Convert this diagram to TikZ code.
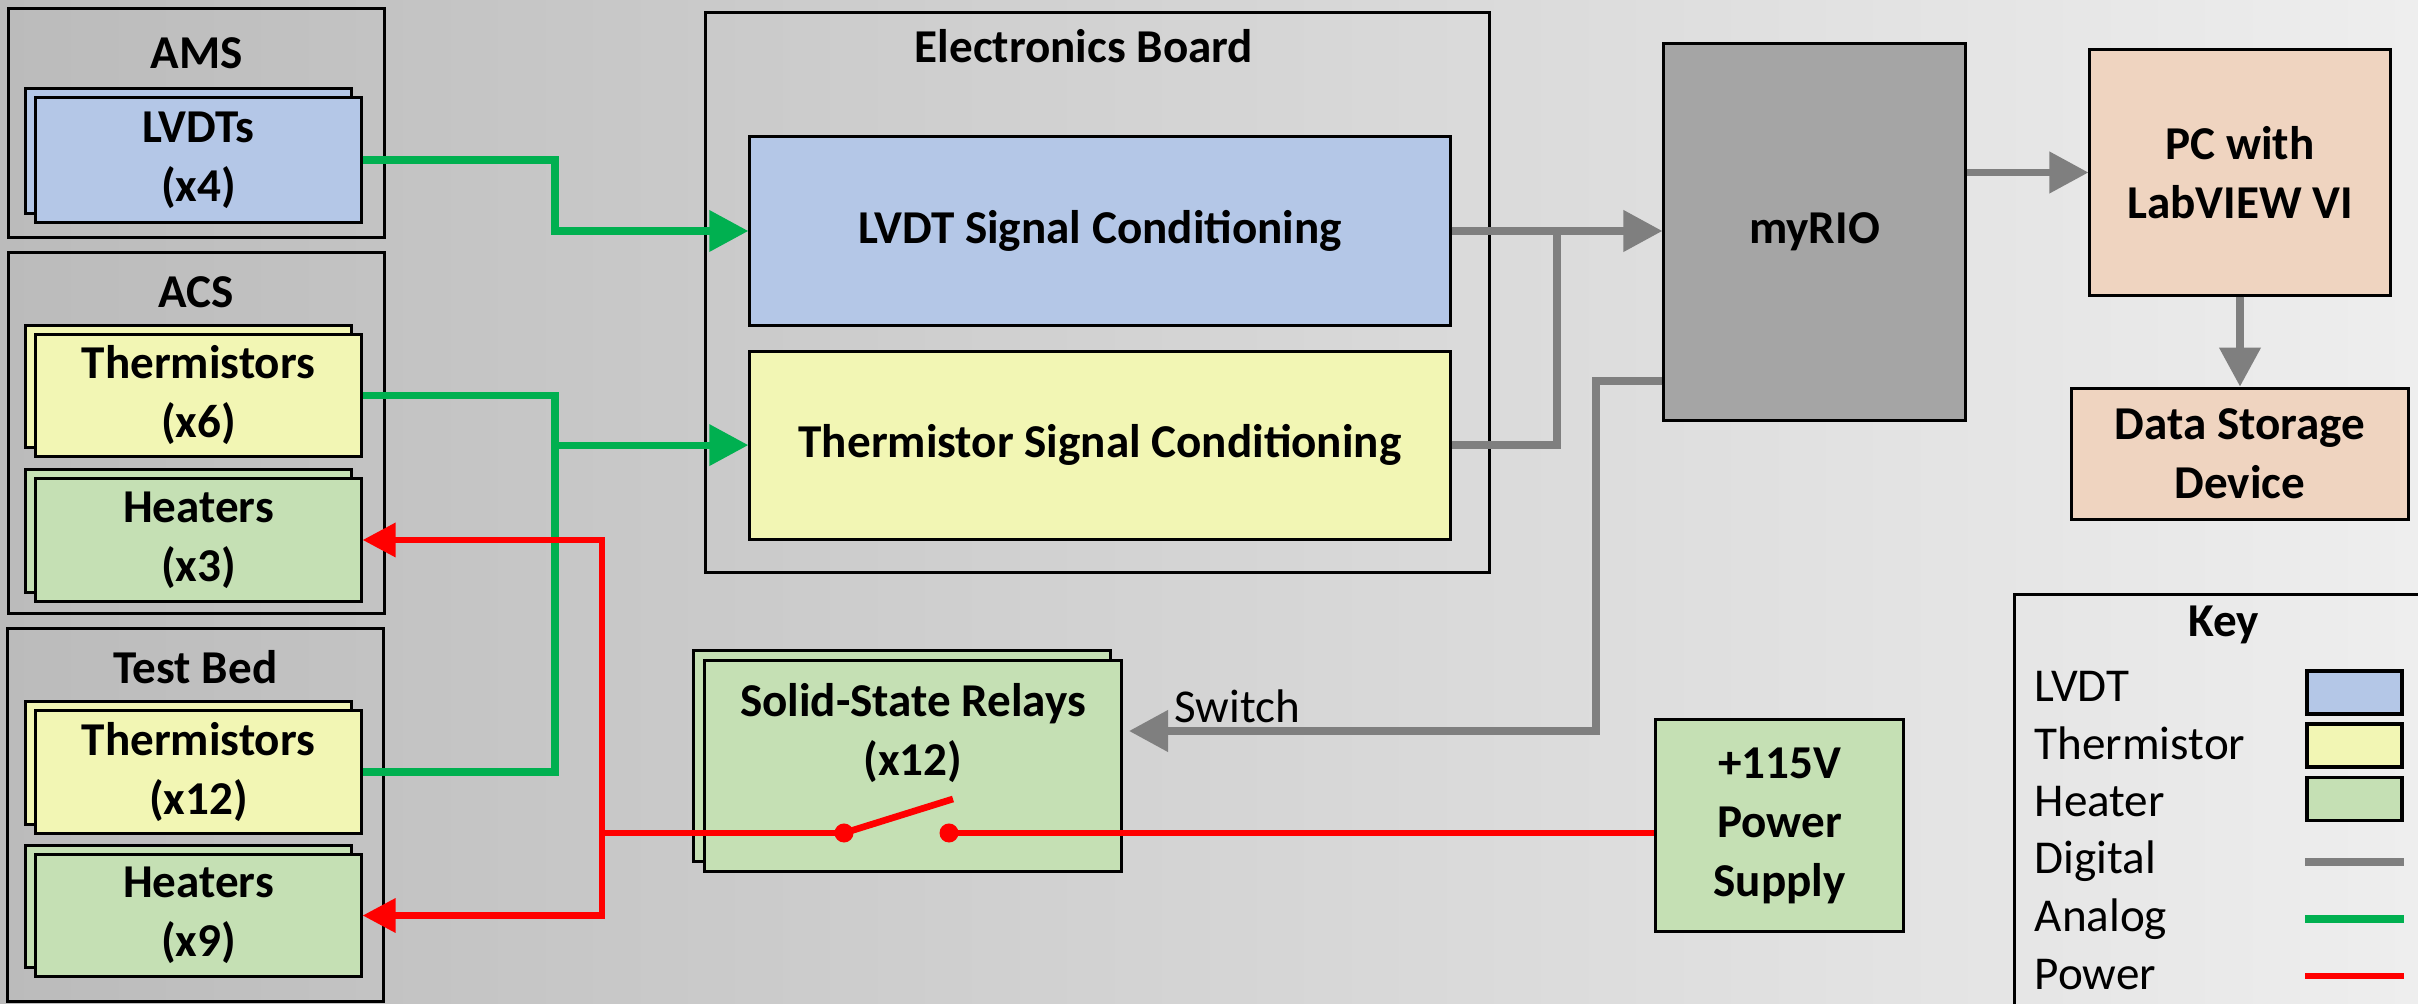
\documentclass[tikz,border=0pt]{standalone}
\usepackage{fontspec}
\setmainfont{Carlito}
\usepackage{tikz}
\usetikzlibrary{arrows.meta,positioning,shadows}

\definecolor{lvdtblue}{HTML}{B4C7E7}
\definecolor{thmyellow}{HTML}{F2F6B4}
\definecolor{heatgreen}{HTML}{C5E0B4}
\definecolor{pcpeach}{HTML}{EFD4C0}
\definecolor{riogray}{HTML}{A5A5A5}
\definecolor{diggray}{HTML}{7F7F7F}
\definecolor{anagreen}{HTML}{00B050}
\definecolor{pwrred}{HTML}{FF0000}
\definecolor{bgdark}{HTML}{BBBBBB}
\definecolor{bglight}{HTML}{EEEEEE}

\newcommand{\dgfont}{\fontsize{13.4pt}{16.8pt}\selectfont}

\tikzset{
  dgbox/.style={
    rectangle, draw=black, line width=0.85pt,
    align=center, font=\dgfont\bfseries, inner sep=2pt
  },
  dggroup/.style={rectangle, draw=black, line width=0.85pt, inner sep=0pt},
  dgtitle/.style={font=\dgfont\bfseries, inner sep=0pt, anchor=base},
  dgcard/.style={
    dgbox, minimum width=3.25cm, minimum height=1.22cm,
    copy shadow={shadow xshift=-0.1cm, shadow yshift=0.09cm}
  },
  dgcond/.style={dgbox, minimum width=7cm, minimum height=1.88cm},
  contact/.style={circle, fill=pwrred, minimum size=0.19cm, inner sep=0pt},
  keylabel/.style={font=\dgfont, inner sep=0pt, anchor=base west},
  keyswatch/.style={rectangle, draw=black, line width=0.9pt,
    minimum width=0.95cm, minimum height=0.43cm, inner sep=0pt},
  analog/.style={draw=anagreen, line width=2pt},
  analogarrow/.style={analog, -{Triangle[length=0.39cm,width=0.4cm]}},
  digital/.style={draw=diggray, line width=2.1pt},
  digitalarrow/.style={digital, -{Triangle[length=0.39cm,width=0.4cm]}},
  power/.style={draw=pwrred, line width=1.9pt},
  powerarrow/.style={power, -{Triangle[length=0.33cm,width=0.33cm]}},
}

\begin{document}
\begin{tikzpicture}[x=0.01cm, y=-0.01cm]
  \useasboundingbox (0,0) rectangle (2418,1004);
  \clip (0,0) rectangle (2418,1004);
  \shade[left color=bgdark, right color=bglight] (0,0) rectangle (2418,1004);

  % sensor groups
  \node (ams) [dggroup, minimum width=3.75cm, minimum height=2.28cm] at (196.5,123) {};
  \node (ams-t) [dgtitle] at (196.5,69) {AMS};
  \node (lvdts) [dgcard, fill=lvdtblue, minimum height=1.25cm] at (198.5,160) {LVDTs\\(x4)};

  \node (acs) [dggroup, minimum width=3.75cm, minimum height=3.6cm] at (196.5,433) {};
  \node (acs-t) [dgtitle] at (196.5,308) {ACS};
  \node (thm6) [dgcard, fill=thmyellow] at (198.5,395.5) {Thermistors\\(x6)};
  \node (heat3) [dgcard, fill=heatgreen] at (198.5,540) {Heaters\\(x3)};

  \node (bed) [dggroup, minimum width=3.75cm, minimum height=3.72cm] at (195.5,815) {};
  \node (bed-t) [dgtitle] at (195.5,684) {Test Bed};
  \node (thm12) [dgcard, fill=thmyellow] at (198.5,772) {Thermistors\\(x12)};
  \node (heat9) [dgcard, fill=heatgreen] at (198.5,915.5) {Heaters\\(x9)};

  % electronics board
  \node (board) [dggroup, minimum width=7.83cm, minimum height=5.59cm] at (1097.5,292.5) {};
  \node (board-t) [dgtitle] at (1084,63) {Electronics Board};
  \node (lvdtsc) [dgcond, fill=lvdtblue] at (1100,231) {LVDT Signal Conditioning};
  \node (thmsc) [dgcond, fill=thmyellow, below=0.23cm of lvdtsc] {Thermistor Signal Conditioning};

  % controller and pc
  \node (myrio) [dgbox, fill=riogray, minimum width=3.01cm, minimum height=3.76cm] at (1814.5,232) {myRIO};
  \node (pc) [dgbox, fill=pcpeach, minimum width=3cm, minimum height=2.45cm] at (2240,172.5) {PC with\\LabVIEW VI};
  \node (storage) [dgbox, fill=pcpeach, minimum width=3.36cm, minimum height=1.31cm, below=0.9cm of pc] {Data Storage\\Device};

  % relays and supply
  \node (ssr) [dgbox, fill=heatgreen, minimum width=4.16cm, minimum height=2.1cm,
    copy shadow={shadow xshift=-0.11cm, shadow yshift=0.1cm}] at (913,766) {};
  \node (ssr-t) [dgtitle, anchor=center, align=center] at (913,733) {Solid-State Relays\\(x12)};
  \node (psu) [dgbox, fill=heatgreen, minimum width=2.47cm, minimum height=2.11cm] at (1779.5,825.5) {+115V\\Power\\Supply};

  % analog lines
  \coordinate (an) at (555,0);
  \draw[analogarrow] (lvdts.east) -| (an |- lvdtsc.west) -- (lvdtsc.west);
  \draw[analog] (thm6.east) -| (an |- thm12.east) -- (thm12.east);
  \draw[analogarrow] (an |- thmsc.west) -- (thmsc.west);

  % digital lines
  \coordinate (dj) at (1557,0);
  \draw[digitalarrow] (lvdtsc.east) -- (myrio.west |- lvdtsc.east);
  \draw[digital] (thmsc.east) -| (dj |- lvdtsc.east);
  \draw[digitalarrow] (myrio.east |- pc.west) -- (pc.west);
  \draw[digitalarrow] (pc.south) -- (storage.north);
  \coordinate (dsw) at (1596,381);
  \coordinate (ssr-in) at (1129,731);
  \draw[digitalarrow] (myrio.west |- dsw) -- (dsw) |- (ssr-in);
  \node (sw-lbl) [keylabel] at (1174,723) {Switch};

  % power lines
  \coordinate (pv) at (602,0);
  \node (sw-a) [contact] at (844,833) {};
  \node (sw-b) [contact] at (949,833) {};
  \coordinate (sw-lever) at (953,799);
  \draw[power] (sw-a.center) -- (sw-lever);
  \draw[power] (sw-a.center) -- (pv |- sw-a);
  \draw[powerarrow] (pv |- sw-a) |- (heat3.east);
  \draw[powerarrow] (pv |- sw-a) |- (heat9.east);
  \draw[power] (sw-b.center) -- (psu.west |- sw-b);

  % key
  \node (key) [dggroup, anchor=north west, minimum width=4.3cm, minimum height=4.3cm] at (2013,593) {};
  \node (key-t) [dgtitle] at (2224,637) {Key};
  \node (lbl-lvdt) [keylabel] at (2034,702) {LVDT};
  \node (lbl-thm) [keylabel] at (2034,760) {Thermistor};
  \node (lbl-heat) [keylabel] at (2034,817) {Heater};
  \node (lbl-dig) [keylabel] at (2034,874) {Digital};
  \node (lbl-ana) [keylabel] at (2034,932) {Analog};
  \node (lbl-pwr) [keylabel] at (2034,989) {Power};
  \node (key-lvdt) [keyswatch, fill=lvdtblue] at (2354.5,692.5) {};
  \node (key-thm) [keyswatch, fill=thmyellow] at (2354.5,745.5) {};
  \node (key-heat) [keyswatch, fill=heatgreen] at (2354.5,799) {};
  \draw[digital] (key-heat.west |- 0,862) -- (key-heat.east |- 0,862);
  \draw[analog] (key-heat.west |- 0,919) -- (key-heat.east |- 0,919);
  \draw[power] (key-heat.west |- 0,976) -- (key-heat.east |- 0,976);
\end{tikzpicture}
\end{document}
